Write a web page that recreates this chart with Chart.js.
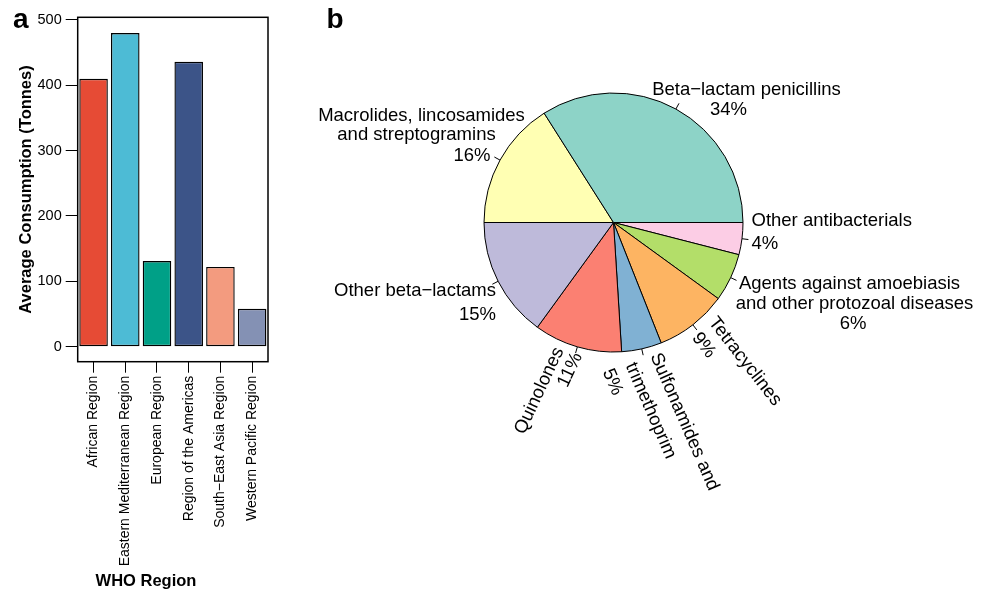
<!DOCTYPE html>
<html>
<head>
<meta charset="utf-8">
<script src="https://cdn.jsdelivr.net/npm/chart.js@4.4.0/dist/chart.umd.min.js"></script>
<style>
  body { margin: 0; background: #fff; }
  #page { position: relative; width: 988px; height: 592px; }
  #regions { position: absolute; left: 0; top: 0; }
  #classes { position: absolute; left: 300px; top: 0; }
</style>
</head>
<body>
<div id="page">
  <canvas id="regions" width="300" height="592"></canvas>
  <canvas id="classes" width="688" height="592"></canvas>
</div>
<script>
// panel a: average consumption by WHO region
const regions = ["African Region", "Eastern Mediterranean Region", "European Region",
  "Region of the Americas", "South\u2212East Asia Region", "Western Pacific Region"];
const consumption = [410, 480, 131, 436, 122, 58];
const regionColours = ["#E64B35", "#4DBBD5", "#00A087", "#3C5488", "#F39B7F", "#8491B4"];
const yTicks = [0, 100, 200, 300, 400, 500];

// panel b: share of each antibiotic class (counter-clockwise from 3 o'clock)
const classes = ["Beta\u2212lactam penicillins", "Macrolides, lincosamides and streptogramins",
  "Other beta\u2212lactams", "Quinolones", "Sulfonamides and trimethoprim", "Tetracyclines",
  "Agents against amoebiasis and other protozoal diseases", "Other antibacterials"];
const shares = [34, 16, 15, 11, 5, 9, 6, 4];
const classColours = ["#8DD3C7", "#FFFFB3", "#BEBADA", "#FB8072", "#80B1D3", "#FDB462", "#B3DE69", "#FCCDE5"];
const classLines = [
  ["Beta\u2212lactam penicillins"],
  ["Macrolides, lincosamides", "and streptogramins"],
  ["Other beta\u2212lactams"],
  ["Quinolones"],
  ["Sulfonamides and", "trimethoprim"],
  ["Tetracyclines"],
  ["Agents against amoebiasis", "and other protozoal diseases"],
  ["Other antibacterials"]
];

const FONT = '"Liberation Sans", Arial, Helvetica, sans-serif';
Chart.defaults.font.family = FONT;
Chart.defaults.color = '#000';

// where each label sits, in the label's own rotated frame around the pie centre
// (a = along the text, b = towards the top of the text)
const labelLayout = [
  { rot: 0, align: 'center', at: [[133, 133], [115, 112.5]] },
  { rot: 0, align: 'center', at: [[-192, 107], [-197, 88], [-141.5, 66.5]] },
  { rot: 0, align: 'right', at: [[-117.5, -68], [-117.5, -92]] },
  { rot: -65, align: 'right', at: [[-137, -4], [-134, -23]] },
  { rot: 66.5, align: 'left', at: [[137, -14.5], [136, -41], [132.5, -64.5]] },
  { rot: 52, align: 'left', at: [[137, 18], [139, -4.5]] },
  { rot: 0, align: 'center', at: [[236, -61], [241, -81], [239.5, -101.5]] },
  { rot: 0, align: 'left', at: [[138, 1.5], [138, -21.5]] }
];

// box round the plot area plus the panel letter and x title
const frame = {
  id: 'frame',
  afterDraw(chart) {
    const { ctx, chartArea: a } = chart;
    ctx.save();
    ctx.strokeStyle = '#000';
    ctx.lineWidth = 1.5;
    ctx.strokeRect(a.left, a.top, a.right - a.left, a.bottom - a.top);
    ctx.fillStyle = '#000';
    ctx.font = 'bold 28px ' + FONT;
    ctx.textAlign = 'left';
    ctx.textBaseline = 'alphabetic';
    ctx.fillText('a', 13, 27.5);
    ctx.font = 'bold 16.5px ' + FONT;
    ctx.textAlign = 'center';
    ctx.textBaseline = 'middle';
    ctx.fillText('WHO Region', 146, 581);
    ctx.restore();
  }
};

new Chart(document.getElementById('regions'), {
  type: 'bar',
  data: {
    labels: regions,
    datasets: [{
      data: consumption,
      backgroundColor: regionColours,
      borderColor: '#000',
      borderWidth: 1.4,
      borderSkipped: false,
      categoryPercentage: 1,
      barPercentage: 0.9
    }]
  },
  options: {
    responsive: false,
    animation: false,
    devicePixelRatio: 1,
    layout: { padding: { top: 17.3, right: 32, left: 0, bottom: 0 } },
    plugins: { legend: { display: false }, tooltip: { enabled: false } },
    scales: {
      x: {
        grid: { drawOnChartArea: false, offset: false, tickLength: 11, color: '#000' },
        border: { display: false },
        ticks: { autoSkip: false, minRotation: 90, maxRotation: 90, padding: 3, font: { size: 14 } },
        afterFit(scale) { scale.height = 230.3; }
      },
      y: {
        min: -23,
        max: 504,
        afterBuildTicks(scale) { scale.ticks = yTicks.map(v => ({ value: v })); },
        grid: { drawOnChartArea: false, tickLength: 12, color: '#000' },
        border: { display: false },
        ticks: { padding: 4, font: { size: 14.5 } },
        title: {
          display: true,
          text: 'Average Consumption (Tonnes)',
          font: { size: 16.5, weight: 'bold' },
          padding: { top: 16.8, bottom: 0 }
        },
        afterFit(scale) { scale.width = 77.7; }
      }
    }
  },
  plugins: [frame]
});

// chart.js goes clockwise, so feed the slices in reverse
const order = shares.map((_, i) => shares.length - 1 - i);
const total = shares.reduce((s, v) => s + v, 0);

const sliceLabels = {
  id: 'sliceLabels',
  afterDraw(chart) {
    const ctx = chart.ctx;
    const arcs = chart.getDatasetMeta(0).data;
    ctx.save();
    ctx.strokeStyle = '#000';
    ctx.fillStyle = '#000';
    ctx.lineWidth = 1;
    ctx.font = '18.5px ' + FONT;
    ctx.textBaseline = 'middle';
    arcs.forEach((arc, i) => {
      const k = order[i];
      const { x, y, startAngle, endAngle, outerRadius } =
        arc.getProps(['x', 'y', 'startAngle', 'endAngle', 'outerRadius'], true);
      const mid = (startAngle + endAngle) / 2;
      const c = Math.cos(mid), s = Math.sin(mid);
      ctx.beginPath();
      ctx.moveTo(x + c * outerRadius, y + s * outerRadius);
      ctx.lineTo(x + c * outerRadius * 1.05, y + s * outerRadius * 1.05);
      ctx.stroke();

      const lay = labelLayout[k];
      const lines = classLines[k].concat(Math.round(shares[k] / total * 100) + '%');
      const t = lay.rot * Math.PI / 180;
      const ux = Math.cos(t), uy = Math.sin(t);
      const nx = Math.sin(t), ny = -Math.cos(t);
      lines.forEach((line, j) => {
        const [pa, pb] = lay.at[j];
        ctx.save();
        ctx.translate(x + pa * ux + pb * nx, y + pa * uy + pb * ny);
        ctx.rotate(t);
        ctx.textAlign = lay.align;
        ctx.fillText(line, 0, 0);
        ctx.restore();
      });
    });
    ctx.font = 'bold 28px ' + FONT;
    ctx.textAlign = 'left';
    ctx.textBaseline = 'alphabetic';
    ctx.fillText('b', 26.5, 27.5);
    ctx.restore();
  }
};

new Chart(document.getElementById('classes'), {
  type: 'pie',
  data: {
    labels: order.map(k => classes[k]),
    datasets: [{
      data: order.map(k => shares[k]),
      backgroundColor: order.map(k => classColours[k]),
      borderColor: '#000',
      borderWidth: 1
    }]
  },
  options: {
    responsive: false,
    animation: false,
    devicePixelRatio: 1,
    rotation: 90,
    radius: 129.5,
    layout: { padding: { left: 0, top: 0, right: 61, bottom: 147 } },
    plugins: { legend: { display: false }, tooltip: { enabled: false } }
  },
  plugins: [sliceLabels]
});
</script>
</body>
</html>
